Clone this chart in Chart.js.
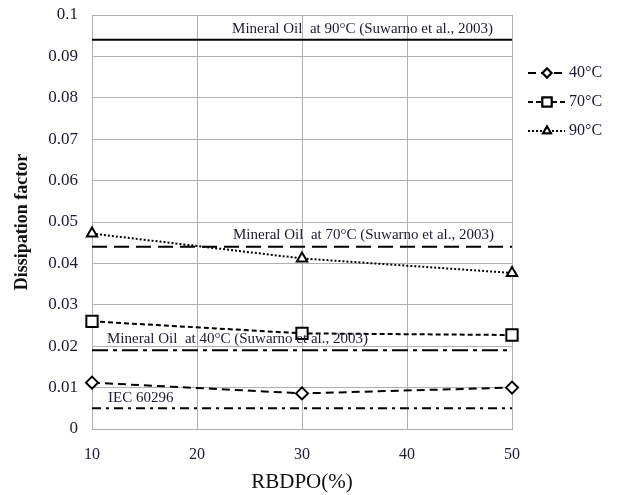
<!DOCTYPE html>
<html>
<head>
<meta charset="utf-8">
<script src="https://cdn.jsdelivr.net/npm/chart.js@4.4.1/dist/chart.umd.min.js"></script>
<style>
  html, body { margin: 0; padding: 0; background: #fff; }
  #wrap { width: 617px; height: 495px; position: relative; }
</style>
</head>
<body>
<div id="wrap"><canvas id="chart"></canvas></div>
<script>
const rbdpo = [10, 30, 50]
const df40 = [0.0112, 0.0086, 0.0100]
const df70 = [0.0260, 0.0231, 0.0227]
const df90 = [0.0472, 0.0412, 0.0377]
const seriesLabels = ["40°C", "70°C", "90°C"]

const refRange = [10, 50]
const refValues = [0.094, 0.044, 0.019, 0.005]
const refLabels = [
  "Mineral Oil  at 90°C (Suwarno et al., 2003)",
  "Mineral Oil  at 70°C (Suwarno et al., 2003)",
  "Mineral Oil  at 40°C (Suwarno et al., 2003)",
  "IEC 60296"
]

const serif = "'Liberation Serif', 'Times New Roman', serif"
const toPoints = (xs, ys) => xs.map((x, i) => ({ x: x, y: ys[i] }))

const seriesStyle = [
  { dash: [8, 5], point: "rectRot", radius: 6 },
  { dash: [5, 3], point: "rect", radius: 8 },
  { dash: [2, 2], point: "triangle", radius: 6 }
]
const refStyle = [
  { dash: [] , label: { x: 493, y: 29, align: "right" } },
  { dash: [15, 7], label: { x: 233, y: 235, align: "left" } },
  { dash: [16, 5, 4, 5], label: { x: 107, y: 339, align: "left" } },
  { dash: [9, 5, 3, 5], label: { x: 108, y: 398, align: "left" } }
]

const seriesData = [df40, df70, df90]
const datasets = seriesData.map((vals, i) => ({
  label: seriesLabels[i],
  data: toPoints(rbdpo, vals),
  borderColor: "#000",
  borderWidth: 2,
  borderDash: seriesStyle[i].dash,
  pointStyle: seriesStyle[i].point,
  pointRadius: seriesStyle[i].radius,
  pointBorderWidth: 2,
  pointBackgroundColor: "#fff",
  pointBorderColor: "#000",
  tension: 0,
  clip: false,
  order: 1
}))

refValues.forEach((v, i) => {
  datasets.push({
    label: refLabels[i],
    data: toPoints(refRange, [v, v]),
    borderColor: "#000",
    borderWidth: 2,
    borderDash: refStyle[i].dash,
    pointRadius: 0,
    order: 2
  })
})

// reference line captions and the side legend
const extras = {
  id: "extras",
  afterDatasetsDraw(chart) {
    const ctx = chart.ctx
    ctx.save()
    ctx.fillStyle = "#1e1a2e"
    ctx.font = "15px " + serif
    ctx.textBaseline = "middle"
    refStyle.forEach((s, i) => {
      ctx.textAlign = s.label.align
      ctx.fillText(refLabels[i], s.label.x, s.label.y)
    })

    // legend
    const rows = [73, 102, 131]
    chart.data.datasets.slice(0, 3).forEach((ds, i) => {
      const y = rows[i]
      ctx.strokeStyle = "#000"
      ctx.lineWidth = 2
      ctx.setLineDash(ds.borderDash)
      ctx.beginPath()
      ctx.moveTo(528, y)
      ctx.lineTo(565, y)
      ctx.stroke()
      ctx.setLineDash([])
      ctx.fillStyle = "#fff"
      Chart.helpers.drawPoint(ctx, {
        pointStyle: ds.pointStyle,
        radius: ds.pointRadius - 1.5,
        borderWidth: 2
      }, 547, y)
      ctx.fill()
      ctx.stroke()
      ctx.fillStyle = "#1e1a2e"
      ctx.font = "16px " + serif
      ctx.textAlign = "left"
      ctx.fillText(ds.label, 569, y)
    })
    ctx.restore()
  }
}

new Chart(document.getElementById("chart"), {
  type: "line",
  data: { datasets: datasets },
  options: {
    responsive: true,
    maintainAspectRatio: false,
    animation: false,
    layout: { padding: { top: 15, right: 105, left: 0, bottom: 0 } },
    plugins: {
      legend: { display: false },
      tooltip: { enabled: false }
    },
    scales: {
      x: {
        type: "linear",
        min: 10,
        max: 50,
        afterFit: s => { s.height = 66; s.paddingLeft = 0; s.paddingRight = 0 },
        ticks: { stepSize: 10, padding: 16, color: "#1e1a2e", font: { family: serif, size: 16 } },
        grid: { color: "#b0b0b0", lineWidth: 1, drawTicks: false },
        border: { color: "#b0b0b0" },
        title: { display: true, text: "RBDPO(%)", color: "#111", padding: { top: 0, bottom: 0 }, font: { family: serif, size: 21 } }
      },
      y: {
        type: "linear",
        min: 0,
        max: 0.1,
        afterFit: s => { s.width = 92; s.paddingTop = 0; s.paddingBottom = 0 },
        ticks: {
          stepSize: 0.01,
          padding: 14,
          color: "#1e1a2e",
          font: { family: serif, size: 17 },
          callback: v => String(Math.round(v * 100) / 100)
        },
        grid: { color: "#b0b0b0", lineWidth: 1, drawTicks: false },
        border: { color: "#b0b0b0" },
        title: { display: true, text: "Dissipation factor", color: "#111", padding: { top: 12, bottom: 0 }, font: { family: serif, size: 18, weight: "bold" } }
      }
    }
  },
  plugins: [extras]
})
</script>
</body>
</html>
